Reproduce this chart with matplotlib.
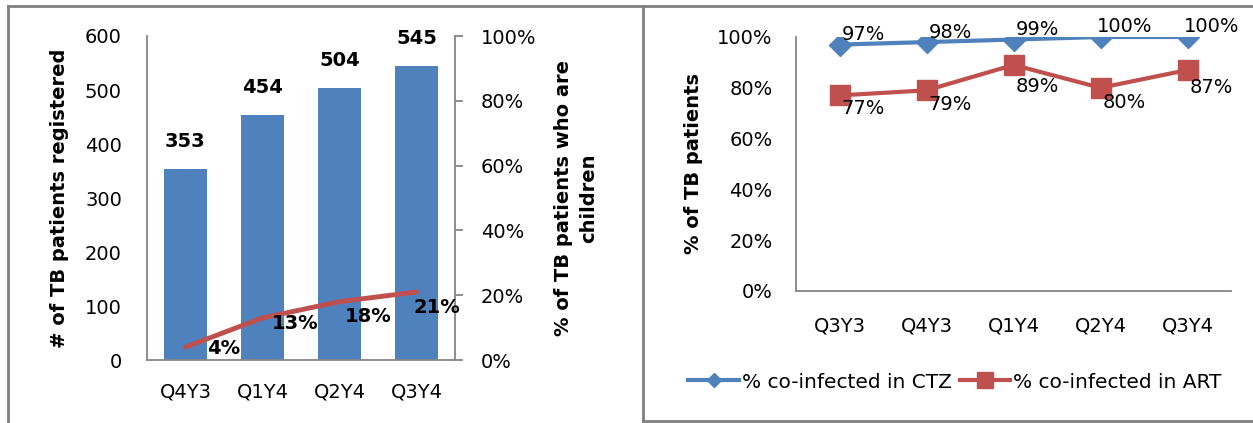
import matplotlib
matplotlib.use("Agg")
import matplotlib.pyplot as plt
from matplotlib.lines import Line2D
from matplotlib.ticker import PercentFormatter

plt.rcParams['font.family'] = ['DejaVu Sans']

# Left panel: TB registrations and share of children
quarters_left = ["Q4Y3", "Q1Y4", "Q2Y4", "Q3Y4"]
registered = [353, 454, 504, 545]
pct_children = [4, 13, 18, 21]

# Right panel: co-infected patients on CTZ and ART
quarters_right = ["Q3Y3", "Q4Y3", "Q1Y4", "Q2Y4", "Q3Y4"]
pct_ctz = [97, 98, 99, 100, 100]
pct_art = [77, 79, 89, 80, 87]

BLUE = "#4F81BD"
RED = "#C0504D"
SPINE = "#868686"
FS = 14
PX = 72 / 100  # pixels -> points at 100 dpi

W, H = 1253, 423
fig = plt.figure(figsize=(W / 100, H / 100), dpi=100)


def box(l, t, r, b):
    return [l / W, 1 - b / H, (r - l) / W, (b - t) / H]


def style_axes(ax, spines):
    for name, sp in ax.spines.items():
        sp.set_visible(name in spines)
        sp.set_color(SPINE)
        sp.set_linewidth(1.3)


# ---- left panel ----
ax1 = fig.add_axes(box(147, 36, 455, 360))
x1 = list(range(len(quarters_left)))
ax1.bar(x1, registered, width=0.57, color=BLUE, zorder=2)
ax1.set_xlim(-0.5, len(quarters_left) - 0.5)
ax1.set_ylim(0, 600)
ax1.set_yticks(range(0, 601, 100))
ax1.set_xticks(x1)
ax1.set_xticklabels(quarters_left)
ax1.tick_params(axis='y', length=0, pad=18, labelsize=FS)
ax1.tick_params(axis='x', length=0, pad=16, labelsize=FS)
style_axes(ax1, ['left', 'bottom'])
ax1.set_ylabel("# of TB patients registered", fontsize=14, fontweight='bold')
ax1.yaxis.set_label_coords(-0.252, 0.5)
for xi, v in zip(x1, registered):
    ax1.annotate(f"{v}", (xi, v), xytext=(0, 13), textcoords='offset points',
                 ha='center', va='bottom', fontsize=FS, fontweight='bold')

ax2 = ax1.twinx()
ax2.plot(x1, [p / 100 for p in pct_children], color=RED, lw=3.5,
         solid_capstyle='round', zorder=3)
ax2.set_ylim(0, 1)
ax2.set_yticks([i / 5 for i in range(6)])
ax2.yaxis.set_major_formatter(PercentFormatter(1.0, decimals=0))
ax2.tick_params(axis='y', length=5.5, width=1.3, color=SPINE, pad=13,
                labelsize=FS, direction='out')
style_axes(ax2, ['right'])
ax2.set_ylabel("% of TB patients who are\nchildren", fontsize=14,
               fontweight='bold', linespacing=1.4)
ax2.yaxis.set_label_coords(1.322, 0.5)
child_offsets = [(38, -1), (33, -6), (29, -15), (20, -16)]
for xi, p, (dx, dy) in zip(x1, pct_children, child_offsets):
    ax2.annotate(f"{p}%", (xi, p / 100), xytext=(dx * PX, dy * PX),
                 textcoords='offset points', ha='center', va='center',
                 fontsize=FS, fontweight='bold', zorder=4)

# ---- right panel ----
ax3 = fig.add_axes(box(796, 37, 1231, 291))
x3 = list(range(len(quarters_right)))
ax3.plot(x3, [p / 100 for p in pct_ctz], color=BLUE, lw=3, marker='D',
         markersize=11, zorder=3)
ax3.plot(x3, [p / 100 for p in pct_art], color=RED, lw=3, marker='s',
         markersize=14, zorder=3)
ax3.set_xlim(-0.5, len(quarters_right) - 0.5)
ax3.set_ylim(0, 1)
ax3.set_yticks([i / 5 for i in range(6)])
ax3.yaxis.set_major_formatter(PercentFormatter(1.0, decimals=0))
ax3.set_xticks(x3)
ax3.set_xticklabels(quarters_right)
ax3.tick_params(axis='y', length=0, pad=17, labelsize=FS)
ax3.tick_params(axis='x', length=0, pad=18, labelsize=FS)
style_axes(ax3, ['left', 'bottom'])
ax3.set_ylabel("% of TB patients", fontsize=14, fontweight='bold')
ax3.yaxis.set_label_coords(-0.214, 0.5)
for xi, p in zip(x3, pct_ctz):
    ax3.annotate(f"{p}%", (xi, p / 100), xytext=(24 * PX, 10 * PX),
                 textcoords='offset points', ha='center', va='center',
                 fontsize=FS, zorder=4, annotation_clip=False)
art_offsets = [13, 14, 22, 15, 17]
for xi, p, dy in zip(x3, pct_art, art_offsets):
    ax3.annotate(f"{p}%", (xi, p / 100), xytext=(24 * PX, -dy * PX),
                 textcoords='offset points', ha='center', va='center',
                 fontsize=FS, zorder=4)

handles = [
    Line2D([], [], color=BLUE, lw=3, marker='D', markersize=7),
    Line2D([], [], color=RED, lw=3, marker='s', markersize=12),
]
fig.legend(handles, ["% co-infected in CTZ", "% co-infected in ART"],
           loc='center', bbox_to_anchor=(955 / W, 1 - 382 / H), ncol=2,
           frameon=False, fontsize=14.5, handlelength=2.5, handletextpad=0.15,
           columnspacing=0.4, borderpad=0, borderaxespad=0)

# ---- panel frames ----
frame = dict(color="#808080", lw=2, transform=fig.transFigure, zorder=10)
fig.add_artist(Line2D([8 / W, 1], [1 - 6 / H, 1 - 6 / H], **frame))
fig.add_artist(Line2D([8 / W, 8 / W], [1 - 6 / H, 0], **frame))
fig.add_artist(Line2D([643 / W, 643 / W], [1 - 6 / H, 1 - 421 / H], **frame))
fig.add_artist(Line2D([643 / W, 1], [1 - 421 / H, 1 - 421 / H], **frame))

fig.savefig("out.png", dpi=100)
